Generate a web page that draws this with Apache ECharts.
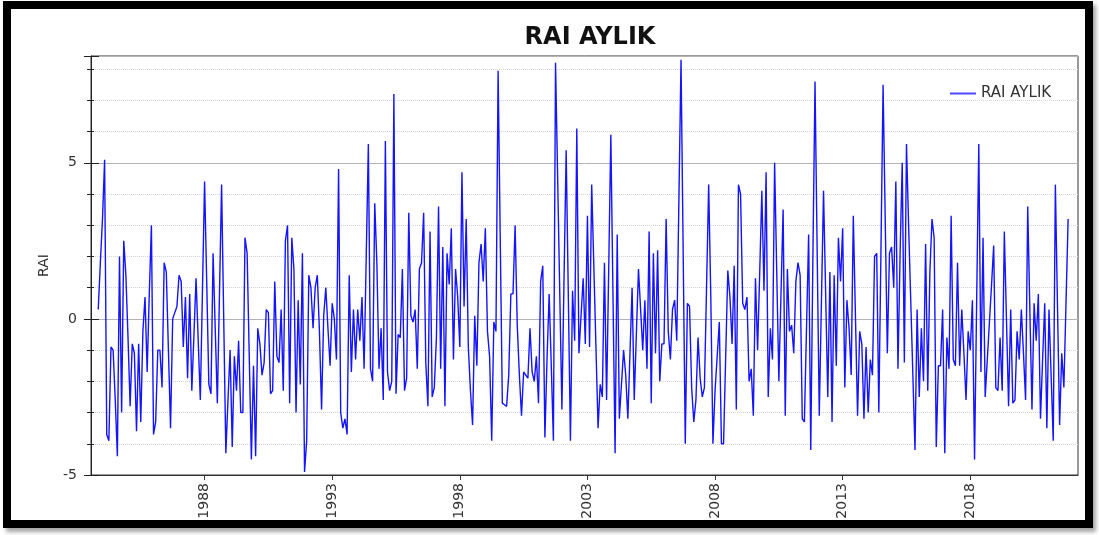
<!DOCTYPE html>
<html>
<head>
<meta charset="utf-8">
<script src="https://cdn.jsdelivr.net/npm/echarts@6/dist/echarts.min.js"></script>
<style>
  html, body { margin: 0; padding: 0; background: #fff; }
  .frame {
    position: absolute; left: 3px; top: 1px; width: 1090px; height: 527px;
    box-sizing: border-box; border: 8px solid #000;
    box-shadow: 3px 4px 4px rgba(0, 0, 0, 0.35); background: #fff;
  }
  #chart { position: absolute; left: 0; top: 0; width: 1099px; height: 535px; }
</style>
</head>
<body>
<div class="frame"></div>
<div id="chart"></div>
<script>
// monthly RAI values, first month = Nov 1983
const startYear = 1983;
const startMonth = 11;

const raiPart1 = [0.3, 1.8, 3.2, 5.1, -3.7, -3.9, -0.9, -1.0, -2.6, -4.4, 2.0, -3.0, 2.5, 1.4, -0.6, -2.8, -0.8, -1.1, -3.6, -0.8, -3.3, -0.4, 0.7, -1.7, 0.8, 3.0, -3.7, -3.3, -1.0, -1.0, -2.2, 1.8, 1.5, -1.0, -3.5, 0.0, 0.2, 0.4, 1.4, 1.2, -0.9];
const raiPart2 = [0.7, -1.9, 0.8, -2.3, -0.5, 1.3, -0.7, -2.6, 0.9, 4.4, 1.2, -2.1, -2.4, 2.1, -0.3, -2.7, 0.8, 4.3, 0.0, -4.3, -2.6, -1.0, -4.1, -1.2, -2.3, -0.7, -3.0, -3.0, 2.6, 2.1, -1.2, -4.5, -1.5, -4.4, -0.3, -0.8, -1.8, -1.4, 0.3, 0.2, -2.4, -2.3, 1.2];
const raiPart3 = [-1.2, -1.4, 0.3, -2.3, 2.5, 3.0, -2.7, 2.6, 1.6, -3.0, 0.6, -2.1, 2.1, -4.9, -3.9, 1.4, 1.0, -0.3, 1.0, 1.4, -0.4, -2.9, 0.1, 1.0, -0.3, -1.5, 0.5, 0.0, -1.3, 4.8, -3.0, -3.5, -3.2, -3.7, 1.4, -1.7, 0.3, -1.3, 0.3, -0.7, 0.7, -1.6, 2.0];
const raiPart4 = [5.6, -1.6, -2.0, 3.7, 1.8, -1.6, -0.3, -2.6, 5.7, -1.7, -2.3, -2.0, 7.2, -2.4, -0.5, -0.6, 1.6, -2.3, -1.9, 3.4, 0.1, -0.1, 0.3, -1.6, 1.6, 1.8, 3.4, -1.4, -2.8, 2.8, -2.5, -2.2, -0.6, 3.6, -1.6, 2.3, -2.8, 2.1, 1.1, 2.9, -1.3, 1.6];
const raiPart5 = [0.7, -0.9, 4.7, 0.4, 3.2, -0.9, -2.3, -3.4, 0.1, -1.5, 1.8, 2.4, 1.2, 2.9, -0.4, -1.2, -3.9, -0.1, -0.4, 7.95, 2.6, -2.7, -2.75, -2.8, -1.8, 0.8, 0.8, 3.0, -0.2, -1.8, -3.1, -1.7, -1.8, -1.9, -0.3, -1.7, -2.0, -1.2, -2.7, 1.2, 1.7, -3.8, -1.3];
const raiPart6 = [0.8, -1.5, -3.9, 8.2, 4.5, 0.8, -2.9, 1.3, 5.4, 0.8, -3.9, 0.9, -0.7, 6.1, -1.1, 0.1, 1.3, -0.8, 3.3, -0.9, 4.3, 1.7, -0.9, -3.5, -2.1, -2.5, 1.8, -2.6, 1.6, 5.9, 0.8, -4.3, 2.7, -3.2, -2.1, -1.0, -1.8, -3.2, -1.1, 1.0, -2.6];
const raiPart7 = [-0.5, 1.6, 0.3, -1.0, 0.6, -1.6, 2.8, -2.7, 2.1, -1.1, 2.2, -2.0, -0.8, -0.8, 3.2, -0.4, -1.3, 0.3, 0.6, -0.7, 3.8, 8.3, 2.2, -4.0, 0.5, 0.4, -2.2, -3.3, -2.6, -0.6, -1.9, -2.5, -2.2, 1.0, 4.3, 0.7, -4.0, -2.3, -1.2, -0.1, -4.0, -4.0];
const raiPart8 = [-1.2, 1.55, 0.7, -0.8, 1.7, -2.9, 4.3, 4.0, 0.5, 0.3, 0.7, -2.0, -1.6, -3.1, 1.3, -1.0, 1.5, 4.1, 0.9, 4.7, -2.5, -0.3, -1.3, 5.0, 1.5, -2.0, 0.8, 3.5, -3.1, 1.6, -0.4, -0.2, -1.1, 1.2, 1.8, 1.4, -3.2, -3.3, -0.3, 2.7, -4.2, 2.0, 7.6];
const raiPart9 = [2.2, -3.1, 0.5, 4.1, 0.8, -2.5, 1.5, -3.3, 1.4, -1.5, 2.6, 1.2, 2.9, -2.2, 0.6, -0.3, -1.8, 3.3, 0.1, -3.1, -0.4, -0.8, -3.2, -0.9, -3.0, -1.3, -1.8, 2.0, 2.1, -3.0, 2.2, 7.5, 3.2, -1.1, 2.1, 2.3, 1.0, 4.4, -1.6, 2.1, 5.0, -1.4];
const raiPart10 = [5.6, 3.0, 0.6, -1.8, -4.2, 0.3, -2.5, -0.3, -2.0, 2.4, -2.3, 1.5, 3.2, 2.6, -4.1, -1.5, -1.5, 0.3, -4.3, -0.6, -1.6, 3.3, -1.3, -1.5, 1.8, -1.5, 0.3, -1.1, -2.6, -0.4, -1.0, 0.6, -4.5, 0.6, 5.6, -1.7, 2.6, -2.5, -1.3, -0.1, 1.1, 2.35];
const raiPart11 = [-2.2, -2.3, -0.6, -2.3, 2.8, 0.0, -2.8, 0.3, -2.7, -2.6, -0.4, -1.3, 0.3, -1.1, -2.6, 3.6, 0.3, -2.9, 0.5, -0.7, 0.8, -3.2, -1.3, 0.5, -3.5, 0.3, -1.8, -3.9, 4.3, 0.4, -3.4, -1.1, -2.2, 0.5, 3.2];

const yearLabels = [1988, 1993, 1998, 2003, 2008, 2013, 2018];
const yLabels = [-5, 0, 5];

const rai = [].concat(raiPart1, raiPart2, raiPart3, raiPart4, raiPart5, raiPart6,
  raiPart7, raiPart8, raiPart9, raiPart10, raiPart11);

// decimal year for every month
const points = rai.map((v, i) => [startYear + (startMonth - 1 + i) / 12, v]);

const chart = echarts.init(document.getElementById('chart'));

const font = 'DejaVu Sans';
const yMin = -5;
const yMax = 8.42;
const baseY = {
  type: 'value', min: yMin, max: yMax, position: 'left', offset: 0,
  axisLine: { show: false },
  axisLabel: { show: false },
  splitLine: { show: false }
};

const option = {
  animation: false,
  backgroundColor: 'transparent',
  title: {
    text: 'RAI AYLIK',
    left: 585,
    top: 21,
    textAlign: 'center',
    textStyle: { fontFamily: font, fontWeight: 'bold', fontSize: 24, color: '#111' }
  },
  legend: {
    data: [{ name: 'RAI AYLIK', icon: 'rect' }],
    left: 945,
    top: 81,
    itemWidth: 26,
    itemHeight: 2,
    itemGap: 8,
    textStyle: { fontFamily: font, fontSize: 15, color: '#333' }
  },
  grid: {
    left: 91, right: 21, top: 56, bottom: 60,
    show: true, borderColor: '#333', borderWidth: 1
  },
  xAxis: {
    type: 'value',
    min: 1983.55,
    max: 2022.22,
    axisLine: { show: true, onZero: false, lineStyle: { color: '#333' } },
    axisTick: { show: true, customValues: yearLabels, length: 5, lineStyle: { color: '#333' } },
    axisLabel: {
      customValues: yearLabels, rotate: 90, margin: 8,
      fontFamily: font, fontSize: 14, color: '#333',
      formatter: (v) => String(Math.round(v))
    },
    splitLine: { show: false }
  },
  yAxis: [
    Object.assign({}, baseY, {
      interval: 1,
      name: 'RAI',
      nameLocation: 'middle',
      nameGap: 40,
      nameTextStyle: { fontFamily: font, fontSize: 14, color: '#333' },
      axisLine: { show: true, onZero: false, lineStyle: { color: '#222' } },
      axisTick: { show: true, length: 4, lineStyle: { color: '#222' } },
      splitLine: { show: true, lineStyle: { color: '#d4d4d4', type: 'dotted' } }
    }),
    Object.assign({}, baseY, {
      interval: 5,
      axisTick: { show: true, length: 7, lineStyle: { color: '#222' } },
      axisLabel: {
        show: true, margin: 14,
        fontFamily: font, fontSize: 14, color: '#333',
        formatter: (v) => (yLabels.indexOf(v) >= 0 ? String(v) : '')
      },
      splitLine: { show: true, lineStyle: { color: '#b4b4b4', type: 'solid' } }
    }),
    Object.assign({}, baseY, {
      interval: 1,
      axisTick: { show: true, inside: true, length: 3, lineStyle: { color: '#222' } }
    }),
    Object.assign({}, baseY, {
      interval: 5,
      axisTick: { show: true, inside: true, length: 8, lineStyle: { color: '#222' } }
    })
  ],
  series: [{
    name: 'RAI AYLIK',
    type: 'line',
    yAxisIndex: 0,
    data: points,
    symbol: 'none',
    showSymbol: false,
    lineStyle: { color: '#1414ff', width: 1.4 },
    itemStyle: { color: '#4a4aff' }
  }]
};

chart.setOption(option);
</script>
</body>
</html>
